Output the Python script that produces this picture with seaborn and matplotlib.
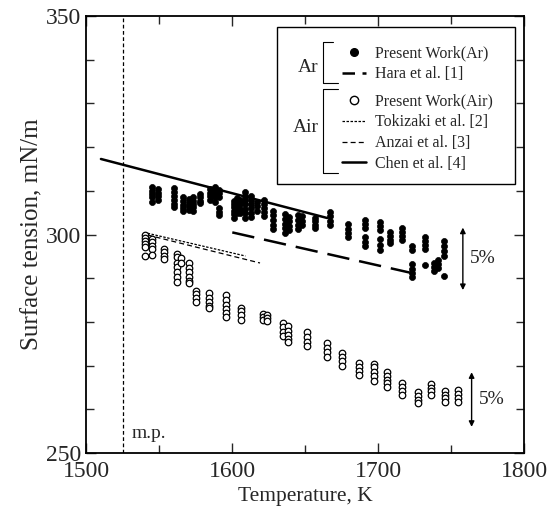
import pandas as pd
import matplotlib.pyplot as plt
import seaborn as sns
from matplotlib.lines import Line2D
from matplotlib.patches import Rectangle

# Dữ liệu (nhiệt độ K -> các giá trị sức căng bề mặt mN/m)
ar_temp = [1545, 1549, 1560, 1566, 1570, 1573, 1578, 1585, 1588, 1591,
           1601, 1603, 1605, 1609, 1613, 1617, 1622, 1628, 1636, 1639,
           1645, 1648, 1657, 1667, 1679, 1691, 1701, 1708, 1716, 1723,
           1732, 1738, 1741, 1745]
ar_vals = [
    [310.8, 310.0, 309.2, 308.5, 307.5],
    [310.5, 309.6, 308.8, 308.0],
    [310.6, 309.8, 308.9, 308.0, 307.0, 306.2],
    [308.5, 307.6, 306.8, 306.0, 305.3],
    [308.2, 307.3, 306.5, 305.6],
    [308.6, 307.8, 307.0, 306.2, 305.4],
    [309.4, 308.6, 307.8, 307.2],
    [310.5, 309.6, 308.8, 307.9],
    [311.0, 310.2, 309.3, 308.5, 307.5],
    [310.3, 309.5, 308.6, 306.0, 305.2, 304.5],
    [307.8, 307.0, 306.2, 305.4, 304.6, 303.8],
    [308.4, 307.5, 306.6, 305.8, 305.0],
    [307.9, 306.9, 305.9, 304.9],
    [309.7, 308.8, 307.9, 306.9, 305.9, 304.9, 303.9],
    [308.9, 308.0, 307.0, 306.0, 305.0, 304.0],
    [307.5, 306.5, 305.5],
    [307.9, 307.0, 306.1, 305.2, 304.3],
    [305.5, 304.4, 303.3, 302.2, 301.2],
    [304.6, 303.6, 302.5, 301.4, 300.4],
    [304.0, 303.0, 302.0, 301.0],
    [304.5, 303.4, 302.3, 301.2],
    [304.2, 303.2, 302.3],
    [303.9, 303.0, 302.1, 301.5],
    [305.2, 304.2, 303.2, 302.2],
    [302.4, 301.3, 300.3, 299.4],
    [303.3, 302.4, 301.5, 299.4, 298.4, 297.4],
    [302.9, 302.0, 301.0, 298.9, 297.6, 296.4],
    [300.6, 299.7, 298.8, 298.1],
    [301.5, 300.6, 299.7, 298.8],
    [297.5, 296.5, 293.2, 292.1, 291.1, 290.3],
    [299.4, 298.5, 297.6, 296.6, 293.0],
    [293.5, 292.5, 291.6],
    [294.2, 293.2, 292.3],
    [298.6, 297.5, 296.3, 295.2, 290.5],
]

air_temp = [1540, 1545, 1553, 1562, 1565, 1570, 1575, 1584, 1596, 1606,
            1621, 1624, 1635, 1638, 1651, 1665, 1675, 1687, 1697, 1706,
            1716, 1727, 1736, 1746, 1755]
air_vals = [
    [300.0, 299.3, 298.6, 297.9, 297.2, 295.0],
    [299.1, 298.3, 297.5, 296.8, 295.3],
    [296.8, 296.0, 295.2, 294.4],
    [295.6, 294.8, 293.6, 292.6, 291.4, 290.3, 289.2],
    [294.6, 293.4],
    [293.4, 292.4, 291.4, 290.4, 289.4, 288.9],
    [287.2, 286.3, 285.4, 284.6],
    [286.6, 285.6, 284.6, 283.6, 283.2],
    [286.1, 285.0, 284.0, 283.0, 282.0, 281.1],
    [283.3, 282.4, 281.5, 280.5],
    [281.8, 281.1, 280.5],
    [281.5, 280.8, 280.3],
    [279.8, 278.8, 277.8, 276.8],
    [279.0, 278.0, 277.0, 276.0, 275.4],
    [277.6, 276.6, 275.5, 274.5],
    [275.1, 274.1, 273.1, 272.1],
    [273.0, 272.0, 271.0, 270.0],
    [270.7, 269.8, 268.8, 267.9],
    [270.5, 269.6, 268.6, 267.6, 266.5],
    [268.5, 267.6, 266.8, 266.0, 265.2],
    [266.1, 265.2, 264.3, 263.4],
    [263.9, 263.0, 262.2, 261.5],
    [265.9, 265.0, 264.2, 263.4],
    [264.3, 263.4, 262.5, 261.6],
    [264.5, 263.6, 262.7, 261.8],
]

# Các đường tham khảo (hai điểm đầu/cuối)
hara_t, hara_v = [1600, 1723], [300.5, 291.2]
tokizaki_t, tokizaki_v = [1542, 1609], [300.3, 295.1]
anzai_t, anzai_v = [1542, 1619], [299.9, 293.5]
chen_t, chen_v = [1510, 1665], [317.3, 303.8]
mp_temp = 1525

# Mũi tên 5%
arrow_ar = (1758, 301.6, 287.3)
arrow_air = (1764, 268.5, 256.0)

ar_df = pd.DataFrame([(t, v) for t, vs in zip(ar_temp, ar_vals) for v in vs], columns=['T', 'sigma'])
air_df = pd.DataFrame([(t, v) for t, vs in zip(air_temp, air_vals) for v in vs], columns=['T', 'sigma'])

sns.set_style('ticks')
plt.rcParams['font.family'] = ['Liberation Serif', 'DejaVu Serif']

fig = plt.figure(figsize=(5.5, 5.19), dpi=100)
ax = fig.add_axes([0.157, 0.127, 0.796, 0.842])

ax.axvline(mp_temp, color='black', lw=0.9, ls=(0, (3, 2)))

sns.lineplot(x=chen_t, y=chen_v, ax=ax, color='black', lw=1.8)
sns.lineplot(x=hara_t, y=hara_v, ax=ax, color='black', lw=1.8)
ax.lines[-1].set_dashes([9, 4])
sns.lineplot(x=tokizaki_t, y=tokizaki_v, ax=ax, color='black', lw=0.9)
ax.lines[-1].set_dashes([2, 1.2])
sns.lineplot(x=anzai_t, y=anzai_v, ax=ax, color='black', lw=0.9)
ax.lines[-1].set_dashes([4, 2.5])

sns.scatterplot(data=air_df, x='T', y='sigma', ax=ax, marker='o', s=22,
                facecolor='white', edgecolor='black', linewidth=0.9, zorder=3)
sns.scatterplot(data=ar_df, x='T', y='sigma', ax=ax, marker='o', s=19,
                color='black', edgecolor='black', linewidth=0.5, zorder=4)

for t, top, bot in [arrow_ar, arrow_air]:
    ax.annotate('', xy=(t, top), xytext=(t, bot),
                arrowprops=dict(arrowstyle='<|-|>', color='black', lw=1.0,
                                mutation_scale=8, shrinkA=0, shrinkB=0))
    ax.text(t + 5, (top + bot) / 2, '5%', fontsize=14, va='center', ha='left')

ax.text(mp_temp + 6, 254.5, 'm.p.', fontsize=14, va='center', ha='left')

ax.set_xlim(1500, 1800)
ax.set_ylim(250, 350)
ax.set_xticks([1500, 1600, 1700, 1800])
ax.set_xticks([1550, 1650, 1750], minor=True)
ax.set_yticks([250, 300, 350])
ax.set_yticks([260, 270, 280, 290, 310, 320, 330, 340], minor=True)
ax.tick_params(which='both', direction='in', top=True, right=True, width=1.0)
ax.tick_params(which='major', length=7, labelsize=17)
ax.tick_params(axis='x', which='major', pad=6)
ax.tick_params(which='minor', length=6)
for sp in ax.spines.values():
    sp.set_linewidth(1.3)
    sp.set_color('black')
ax.set_xlabel('Temperature, K', fontsize=15.5, labelpad=3)
ax.set_ylabel('Surface tension, mN/m', fontsize=18, labelpad=2)

# Chú thích với khung và dấu ngoặc nhóm
ax.add_patch(Rectangle((0.436, 0.616), 0.543, 0.359, transform=ax.transAxes,
                       fill=False, edgecolor='black', lw=1.0, zorder=5))
ar_handles = [Line2D([], [], marker='o', color='black', ls='none', markersize=5.5),
              Line2D([], [], color='black', lw=1.8, dashes=[5, 3])]
air_handles = [Line2D([], [], marker='o', mfc='white', mec='black', ls='none', markersize=6),
               Line2D([], [], color='black', lw=0.9, dashes=[2, 1.2]),
               Line2D([], [], color='black', lw=0.9, dashes=[4, 2.5]),
               Line2D([], [], color='black', lw=1.8)]
leg_kw = dict(frameon=False, fontsize=11.5, handlelength=1.5, handletextpad=0.55,
              labelspacing=0.3, borderpad=0, borderaxespad=0, loc='center left')
leg1 = ax.legend(ar_handles, ['Present Work(Ar)', 'Hara et al. [1]'],
                 bbox_to_anchor=(0.585, 0.891), **leg_kw)
ax.add_artist(leg1)
ax.legend(air_handles, ['Present Work(Air)', 'Tokizaki et al. [2]', 'Anzai et al. [3]', 'Chen et al. [4]'],
          bbox_to_anchor=(0.585, 0.733), **leg_kw)

for y0, y1, x1a, x1b in [(0.940, 0.847, 0.564, 0.575), (0.833, 0.641, 0.575, 0.575)]:
    ax.plot([x1a, 0.541, 0.541, x1b], [y0, y0, y1, y1], transform=ax.transAxes,
            color='black', lw=0.8)
ax.text(0.530, 0.883, 'Ar', transform=ax.transAxes, fontsize=14, ha='right', va='center')
ax.text(0.530, 0.744, 'Air', transform=ax.transAxes, fontsize=14, ha='right', va='center')

fig.savefig('out.png', dpi=100)
